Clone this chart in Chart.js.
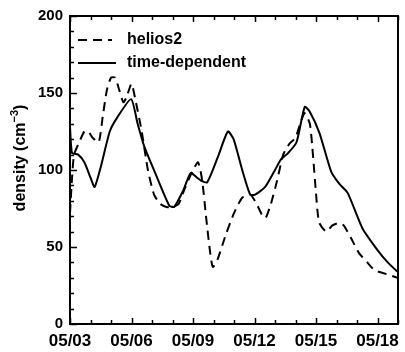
<!DOCTYPE html>
<html>
<head>
<meta charset="utf-8">
<script src="https://cdn.jsdelivr.net/npm/chart.js@4/dist/chart.umd.min.js"></script>
<style>
  body { margin: 0; background: #fff; }
  #wrap { width: 405px; height: 352px; }
</style>
</head>
<body>
<div id="wrap"><canvas id="chart" width="405" height="352"></canvas></div>
<script>
// day of May (05/dd) and density in cm^-3
var heliosDays = [3.0, 3.1, 3.2, 3.45, 3.7, 3.9, 4.1, 4.4, 4.6, 4.8, 5.0, 5.2, 5.4, 5.6, 5.75, 6.0, 6.2, 6.5, 6.8, 7.1, 7.4, 7.7, 8.0, 8.3, 8.6, 9.0, 9.25, 9.45, 9.65, 9.85, 9.97, 10.2, 10.6, 11.0, 11.4, 11.8, 12.1, 12.4, 12.55, 12.8, 13.1, 13.4, 13.7, 14.0, 14.3, 14.45, 14.7, 14.85, 15.0, 15.15, 15.5, 15.8, 16.1, 16.35, 16.7, 17.1, 17.5, 17.85, 18.3, 18.97];
var heliosDensity = [72, 95, 110, 118, 125, 125, 121, 118, 135, 152, 160, 160, 152, 144, 147, 156, 145, 125, 100, 84, 78, 76, 76, 78, 88, 100, 105, 93, 68, 45, 37, 42, 58, 72, 82, 84, 78, 70, 69, 78, 93, 110, 117, 121, 133, 137, 130, 110, 85, 66, 60, 64, 65.5, 64, 56, 46, 40, 35, 33, 30];

var tdDays = [3.0, 3.1, 3.4, 3.7, 4.0, 4.2, 4.5, 4.94, 5.3, 5.98, 6.3, 6.63, 7.19, 7.84, 8.08, 8.5, 8.89, 9.2, 9.4, 9.69, 10.2, 10.7, 10.98, 11.4, 11.79, 12.03, 12.52, 13.0, 13.3, 13.64, 14.05, 14.45, 14.69, 15.17, 15.74, 16.14, 16.55, 17.27, 18.0, 18.5, 18.97];
var tdDensity = [128, 111, 110, 105, 95, 89, 102, 125, 134, 146, 130, 115, 97, 77, 76, 86, 98, 95, 93, 92, 108, 125, 120, 100, 84, 84, 89, 100, 107, 111, 118, 141, 138, 124, 99, 91, 85, 62, 48, 40, 34];

var seriesNames = ["helios2", "time-dependent"];
var labelDays = [3, 6, 9, 12, 15, 18];

function toPoints(xs, ys) {
  var pts = [];
  for (var i = 0; i < xs.length; i++) pts.push({ x: xs[i], y: ys[i] });
  return pts;
}

function pad2(n) { return (n < 10 ? "0" : "") + n; }

var FONT = "'Liberation Sans', Arial, sans-serif";

// frame, inward ticks, legend and y title (IDL style)
var framePlugin = {
  id: "frame",
  afterDraw: function (chart) {
    var ctx = chart.ctx;
    var a = chart.chartArea;
    var xs = chart.scales.x, ys = chart.scales.y;
    ctx.save();
    ctx.strokeStyle = "#000";
    ctx.lineWidth = 2;
    ctx.strokeRect(a.left, a.top, a.right - a.left, a.bottom - a.top);

    ctx.lineWidth = 1.5;
    ctx.beginPath();
    xs.ticks.forEach(function (t) {
      var px = Math.round(xs.getPixelForValue(t.value)) + 0.5;
      var len = labelDays.indexOf(t.value) >= 0 ? 6 : 4;
      ctx.moveTo(px, a.bottom); ctx.lineTo(px, a.bottom - len);
      ctx.moveTo(px, a.top); ctx.lineTo(px, a.top + len);
    });
    ys.ticks.forEach(function (t) {
      var py = Math.round(ys.getPixelForValue(t.value)) + 0.5;
      var len = t.value % 50 === 0 ? 7 : 4;
      ctx.moveTo(a.left, py); ctx.lineTo(a.left + len, py);
    });
    ctx.stroke();

    // legend
    var ds = chart.data.datasets;
    var rows = [40, 63];
    ctx.lineWidth = 2;
    ds.forEach(function (d, i) {
      ctx.setLineDash(d.borderDash || []);
      ctx.beginPath();
      ctx.moveTo(78, rows[i]);
      ctx.lineTo(d.borderDash ? 112 : 116, rows[i]);
      ctx.stroke();
      ctx.setLineDash([]);
      ctx.fillStyle = "#000";
      ctx.font = "bold 16px " + FONT;
      ctx.textBaseline = "middle";
      ctx.textAlign = "left";
      ctx.fillText(d.label, 127, rows[i]);
    });

    // y axis title with superscript
    ctx.translate(25, 158);
    ctx.rotate(-Math.PI / 2);
    ctx.textBaseline = "alphabetic";
    var p1 = "density (cm", p3 = ")";
    ctx.font = "bold 11px " + FONT;
    var wSup = ctx.measureText("\u22123").width;
    ctx.font = "bold 16px " + FONT;
    var w1 = ctx.measureText(p1).width, w3 = ctx.measureText(p3).width;
    var x0 = -(w1 + wSup + w3) / 2;
    ctx.fillText(p1, x0, 0);
    ctx.font = "bold 11px " + FONT;
    ctx.fillText("\u22123", x0 + w1, -7);
    ctx.font = "bold 16px " + FONT;
    ctx.fillText(p3, x0 + w1 + wSup, 0);
    ctx.restore();
  }
};

new Chart(document.getElementById("chart"), {
  type: "line",
  data: {
    datasets: [
      {
        label: seriesNames[0],
        data: toPoints(heliosDays, heliosDensity),
        borderColor: "#000",
        borderWidth: 2,
        borderDash: [9, 6],
        pointRadius: 0,
        tension: 0.2,
        fill: false
      },
      {
        label: seriesNames[1],
        data: toPoints(tdDays, tdDensity),
        borderColor: "#000",
        borderWidth: 2,
        pointRadius: 0,
        tension: 0.2,
        fill: false
      }
    ]
  },
  options: {
    responsive: false,
    animation: false,
    layout: { padding: { top: 12, right: 5, left: 0, bottom: 0 } },
    plugins: { legend: { display: false }, tooltip: { enabled: false } },
    scales: {
      x: {
        type: "linear",
        min: 3,
        max: 19,
        afterFit: function (s) { s.height = 28; },
        grid: { display: false, drawTicks: false },
        border: { display: false },
        ticks: {
          stepSize: 1,
          autoSkip: false,
          maxRotation: 0,
          padding: 7,
          color: "#000",
          font: { family: FONT, size: 17, weight: "bold" },
          callback: function (v) {
            return labelDays.indexOf(v) >= 0 ? "05/" + pad2(v) : "";
          }
        }
      },
      y: {
        min: 0,
        max: 200,
        afterFit: function (s) { s.width = 70; },
        grid: { display: false, drawTicks: false },
        border: { display: false },
        ticks: {
          stepSize: 10,
          autoSkip: false,
          padding: 7,
          color: "#000",
          font: { family: FONT, size: 15, weight: "bold" },
          callback: function (v) { return v % 50 === 0 ? v : ""; }
        }
      }
    }
  },
  plugins: [framePlugin]
});
</script>
</body>
</html>
